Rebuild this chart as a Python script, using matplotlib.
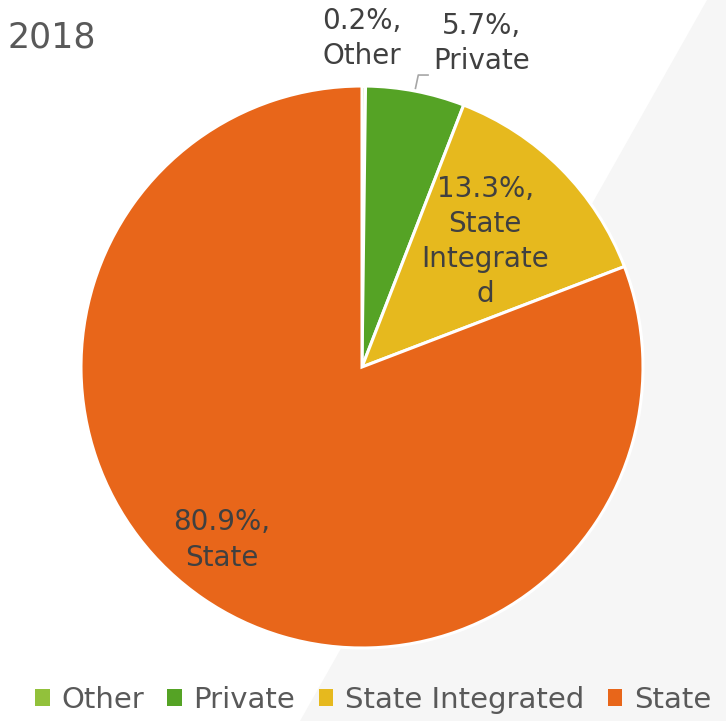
import numpy as np
import matplotlib.pyplot as plt
from matplotlib.patches import Polygon

plt.rcParams["font.family"] = ["DejaVu Sans"]

# 2018 school type shares
labels = ["Other", "Private", "State Integrated", "State"]
shares = [0.2, 5.7, 13.3, 80.9]
label_text = ["0.2%,\nOther", "5.7%,\nPrivate", "13.3%,\nState\nIntegrate\nd", "80.9%,\nState"]
colors = ["#92c13b", "#55a325", "#e6b91e", "#e8661a"]

W, H = 726, 721
fig = plt.figure(figsize=(W / 100, H / 100), dpi=100)
fig.patch.set_facecolor("white")

# faint slanted grey panel at the right of the slide
bg = Polygon([(707 / W, 1), (1, 1), (1, 0), (300 / W, 0)], closed=True,
             transform=fig.transFigure, facecolor="#f6f6f6", edgecolor="none", zorder=-5)
fig.patches.append(bg)

ax = fig.add_axes([81 / W, 73 / H, 562 / W, 562 / H])
ax.set_zorder(1)

wedges, _ = ax.pie(shares, colors=colors, startangle=90, counterclock=False, radius=1,
                   wedgeprops=dict(edgecolor="white", linewidth=2.2))
ax.set_xlim(-1, 1)
ax.set_ylim(-1, 1)
ax.set_aspect("equal")
ax.axis("off")

txt_col = "#404040"
fs = 20
pos = [(0.0, 1.168), (0.427, 1.150), (0.438, 0.447), (-0.498, -0.616)]
for (x, y), t in zip(pos, label_text):
    ax.text(x, y, t, ha="center", va="center", fontsize=fs, color=txt_col,
            linespacing=1.33, clip_on=False)

# leader line for the Private label
w = wedges[1]
mid = np.deg2rad((w.theta1 + w.theta2) / 2)
x0, y0 = np.cos(mid) * 1.0, np.sin(mid) * 1.0
ax.plot([x0, x0 + 0.01, 0.235], [y0 + 0.01, 1.039, 1.039], color="#a6a6a6", lw=1.2,
        clip_on=False)

fig.text(8 / W, 1 - 38 / H, "2018", fontsize=25, color="#595959", ha="left", va="center")

handles = [plt.Rectangle((0, 0), 1, 1, facecolor=c, edgecolor="none") for c in colors]
fig.legend(handles, labels, loc="center", bbox_to_anchor=(0.5 + 10 / W, 1 - 700 / H), ncol=4,
           frameon=False, fontsize=21, labelcolor="#595959", handlelength=0.5,
           handleheight=0.5, handletextpad=0.4, columnspacing=0.8, borderaxespad=0)

fig.savefig("out.png", dpi=100)
